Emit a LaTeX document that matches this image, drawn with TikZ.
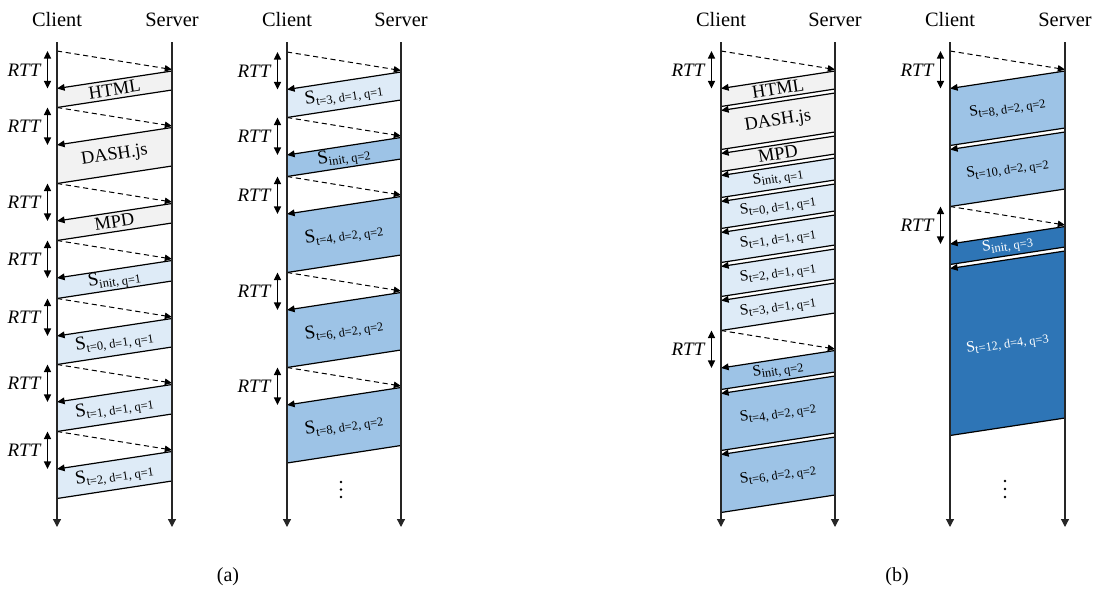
\documentclass[tikz,border=0pt]{standalone}
\usepackage{fontspec}
\setmainfont{Liberation Serif}
\usetikzlibrary{arrows.meta,calc}

\definecolor{greyfill}{HTML}{F2F2F2}
\definecolor{paleblue}{HTML}{DEEBF7}
\definecolor{midblue}{HTML}{9DC3E6}
\definecolor{deepblue}{HTML}{2E75B6}

% subscript of a segment label
\newcommand\subtxt[1]{\raisebox{-0.17em}{\fontsize{6.2}{7}\selectfont #1}}

% a pair of lifelines: #1 lane name, #2 client x, #3 server x
\newcommand\lane[3]{%
  \xdef\lanename{#1}\xdef\laneC{#2}\xdef\laneS{#3}%
  \node[lanetitle] (#1-client) at (#2,20) {Client};
  \node[lanetitle] (#1-server) at (#3,20) {Server};
  \coordinate (#1-ctop) at (#2,42);
  \coordinate (#1-cend) at (#2,527);
  \coordinate (#1-stop) at (#3,42);
  \coordinate (#1-send) at (#3,527);
}
\newcommand\lanelines{%
  \draw[lifeline] (\lanename-ctop) -- (\lanename-cend);
  \draw[lifeline] (\lanename-stop) -- (\lanename-send);
}

% a request with its round-trip marker: #1 id, #2 time at the client
\newcommand\req[2]{%
  \coordinate (\lanename-#1-q0) at (\laneC,#2);
  \coordinate (\lanename-#1-q1) at (\laneS,#2+18.5);
  \coordinate (\lanename-#1-r0) at (\laneC-9.5,#2);
  \coordinate (\lanename-#1-r1) at (\laneC-9.5,#2+37.5);
  \draw[request] (\lanename-#1-q0) -- (\lanename-#1-q1);
  \draw[rttarrow] (\lanename-#1-r0) -- (\lanename-#1-r1);
  \node[rttlabel] (\lanename-#1-rtt) at (\laneC-33,#2+19) {RTT};
}

% a downloaded segment: #1 id, #2/#3 start/end at the server, #4 fill, #5 label style, #6 label
\newcommand\seg[6]{%
  \coordinate (\lanename-#1-st) at (\laneS,#2);
  \coordinate (\lanename-#1-sb) at (\laneS,#3);
  \coordinate (\lanename-#1-ct) at (\laneC,#2+17.5);
  \coordinate (\lanename-#1-cb) at (\laneC,#3+17.5);
  \fill[#4] (\lanename-#1-st) -- (\lanename-#1-sb) -- (\lanename-#1-cb) -- (\lanename-#1-ct) -- cycle;
  \draw[edge] (\lanename-#1-sb) -- (\lanename-#1-cb);
  \draw[reply] (\lanename-#1-st) -- (\lanename-#1-ct);
  \node[seglabel,#5] (\lanename-#1) at ($(\lanename-#1-st)!0.5!(\lanename-#1-cb)$) {#6};
}

\begin{document}
\begin{tikzpicture}[x=0.5pt,y=-0.5pt,
  lanetitle/.style={font=\fontsize{10.2}{12}\selectfont},
  lifeline/.style={line width=0.6pt,draw=black!85,-{Triangle[length=4pt,width=4pt]}},
  request/.style={line width=0.5pt,dash pattern=on 2.6pt off 1.8pt,-{Triangle[length=3.6pt,width=3.2pt]}},
  rttarrow/.style={line width=0.7pt,{Triangle[length=3.8pt,width=3.5pt]}-{Triangle[length=3.8pt,width=3.5pt]}},
  rttlabel/.style={font=\fontsize{9.5}{11}\selectfont\itshape},
  edge/.style={line width=0.6pt},
  reply/.style={line width=0.6pt,-{Triangle[length=3.8pt,width=3.3pt]}},
  seglabel/.style={rotate=8.7,inner sep=0pt},
  wide/.style={font=\fontsize{9.6}{11}\selectfont},
  narrow/.style={font=\fontsize{7.8}{9}\selectfont},
  word/.style={font=\fontsize{9.2}{11}\selectfont},
  onwhite/.style={text=white},
  caption/.style={font=\fontsize{10}{12}\selectfont},
  vdot/.style={fill=black,circle,inner sep=0pt,minimum size=1.3pt}]
\useasboundingbox (0,0) rectangle (1099,590);

% ---------------- (a), left: sequential requests ----------------
\lane{aa}{57}{172}
\req{h}{51}
\seg{h}{71}{90}{greyfill}{word}{HTML}
\req{d}{107.5}
\seg{d}{127.5}{166}{greyfill}{word}{DASH.js}
\req{m}{183.5}
\seg{m}{203.5}{223}{greyfill}{word}{MPD}
\req{i}{240.5}
\seg{i}{260.5}{281}{paleblue}{wide}{S\subtxt{init, q=1}}
\req{s0}{298.5}
\seg{s0}{318.5}{347}{paleblue}{wide}{S\subtxt{t=0, d=1, q=1}}
\req{s1}{364.5}
\seg{s1}{384.5}{414}{paleblue}{wide}{S\subtxt{t=1, d=1, q=1}}
\req{s2}{431.5}
\seg{s2}{451.5}{481}{paleblue}{wide}{S\subtxt{t=2, d=1, q=1}}
\lanelines

% ---------------- (a), right ----------------
\lane{ab}{287}{401}
\req{s3}{52}
\seg{s3}{72}{100}{paleblue}{wide}{S\subtxt{t=3, d=1, q=1}}
\req{i}{117.5}
\seg{i}{137.5}{159}{midblue}{wide}{S\subtxt{init, q=2}}
\req{s4}{176.5}
\seg{s4}{196.5}{255}{midblue}{wide}{S\subtxt{t=4, d=2, q=2}}
\req{s6}{272.5}
\seg{s6}{292.5}{350}{midblue}{wide}{S\subtxt{t=6, d=2, q=2}}
\req{s8}{367.5}
\seg{s8}{387.5}{445.5}{midblue}{wide}{S\subtxt{t=8, d=2, q=2}}
\node[vdot] (ab-dot1) at (341,482) {};
\node[vdot] (ab-dot2) at (341,489.5) {};
\node[vdot] (ab-dot3) at (341,497) {};
\lanelines

% ---------------- (b), left: pipelined requests ----------------
\lane{ba}{721}{835}
\req{h}{51}
\seg{h}{71}{89}{greyfill}{word}{HTML}
\seg{d}{93}{132}{greyfill}{word}{DASH.js}
\seg{m}{136}{154}{greyfill}{word}{MPD}
\seg{i}{158}{180}{paleblue}{narrow}{S\subtxt{init, q=1}}
\seg{s0}{184}{211}{paleblue}{narrow}{S\subtxt{t=0, d=1, q=1}}
\seg{s1}{215}{245}{paleblue}{narrow}{S\subtxt{t=1, d=1, q=1}}
\seg{s2}{249}{279}{paleblue}{narrow}{S\subtxt{t=2, d=1, q=1}}
\seg{s3}{283}{313}{paleblue}{narrow}{S\subtxt{t=3, d=1, q=1}}
\req{i2}{330.5}
\seg{i2}{350.5}{372}{midblue}{narrow}{S\subtxt{init, q=2}}
\seg{s4}{376}{433}{midblue}{narrow}{S\subtxt{t=4, d=2, q=2}}
\seg{s6}{437}{495}{midblue}{narrow}{S\subtxt{t=6, d=2, q=2}}
\lanelines

% ---------------- (b), right ----------------
\lane{bb}{950}{1065}
\req{s8}{51}
\seg{s8}{71}{128}{midblue}{narrow}{S\subtxt{t=8, d=2, q=2}}
\seg{s10}{132}{189}{midblue}{narrow}{S\subtxt{t=10, d=2, q=2}}
\req{i3}{206.5}
\seg{i3}{226.5}{247}{deepblue}{narrow,onwhite}{S\subtxt{init, q=3}}
\seg{s12}{251}{418}{deepblue}{narrow,onwhite}{S\subtxt{t=12, d=4, q=3}}
\node[vdot] (bb-dot1) at (1005,481) {};
\node[vdot] (bb-dot2) at (1005,489) {};
\node[vdot] (bb-dot3) at (1005,497) {};
\lanelines

% ---------------- captions ----------------
\node[caption] (cap-a) at (228,577) {(a)};
\node[caption] (cap-b) at (897,577) {(b)};
\end{tikzpicture}
\end{document}
